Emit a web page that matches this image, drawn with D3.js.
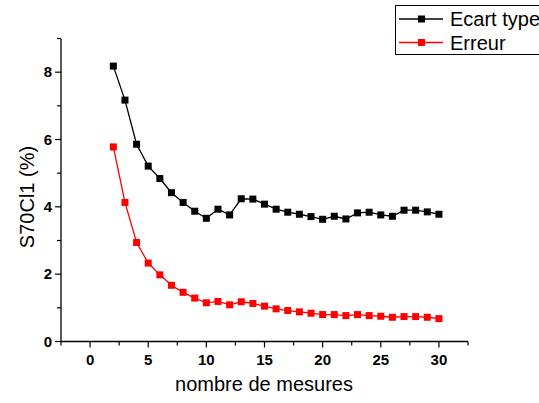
<!DOCTYPE html>
<html><head><meta charset="utf-8">
<script src="https://cdn.jsdelivr.net/npm/d3@7"></script>
<style>body{margin:0;background:#fff}svg{display:block;font-family:Arial,"Liberation Sans",sans-serif}</style>
</head><body><svg id="c" width="539" height="403"></svg>
<script>
const xValues = [2,3,4,5,6,7,8,9,10,11,12,13,14,15,16,17,18,19,20,21,22,23,24,25,26,27,28,29,30];
const ecartType = [8.18,7.17,5.86,5.21,4.84,4.42,4.13,3.87,3.66,3.93,3.76,4.24,4.23,4.08,3.93,3.84,3.78,3.71,3.63,3.72,3.64,3.82,3.84,3.76,3.72,3.90,3.90,3.85,3.78];
const erreur = [5.78,4.13,2.94,2.33,1.98,1.67,1.46,1.29,1.15,1.19,1.09,1.18,1.13,1.05,0.97,0.92,0.88,0.84,0.80,0.80,0.77,0.80,0.77,0.75,0.72,0.74,0.74,0.72,0.68];
const xTicks = [0,5,10,15,20,25,30];
const yTicks = [0,2,4,6,8];
const seriesNames = ["Ecart type","Erreur"];
const seriesColors = ["#000000","#ff0000"];

const svg = d3.select("#c");
const x = d3.scaleLinear().domain([-2.5,32.5]).range([61,468]);
const y = d3.scaleLinear().domain([0,9]).range([341.5,38.5]);

// axes
const xAxis = svg.append("g").attr("transform","translate(0,341.5)");
xAxis.append("line").attr("x1",x.range()[0]).attr("x2",x.range()[1]).attr("stroke","#000").attr("stroke-width",1.3);
const xMinor = d3.range(-2.5,33,2.5);
xAxis.selectAll(".xt").data(xMinor).join("line")
  .attr("x1",d=>x(d)).attr("x2",d=>x(d)).attr("y1",0)
  .attr("y2",d=>xTicks.includes(d)?6:4).attr("stroke","#000").attr("stroke-width",1.2);
xAxis.selectAll(".xl").data(xTicks).join("text")
  .attr("x",d=>x(d)).attr("y",23).attr("text-anchor","middle")
  .attr("font-size",15).attr("font-weight","bold").text(d=>d);

const yAxis = svg.append("g").attr("transform","translate(61,0)");
yAxis.append("line").attr("y1",y(0)).attr("y2",y(9)).attr("stroke","#000").attr("stroke-width",1.3);
const yMinor = d3.range(0,9.01,1);
yAxis.selectAll(".yt").data(yMinor).join("line")
  .attr("y1",d=>y(d)).attr("y2",d=>y(d)).attr("x1",0)
  .attr("x2",d=>yTicks.includes(d)?-6:-4).attr("stroke","#000").attr("stroke-width",1.2);
yAxis.selectAll(".yl").data(yTicks).join("text")
  .attr("x",-9).attr("y",d=>y(d)+5.3).attr("text-anchor","end")
  .attr("font-size",15).attr("font-weight","bold").text(d=>d);

svg.append("text").attr("x",264).attr("y",391).attr("text-anchor","middle")
  .attr("font-size",20).text("nombre de mesures");
svg.append("text").attr("transform","translate(34,197) rotate(-90)").attr("text-anchor","middle")
  .attr("font-size",20).text("S70Cl1 (%)");

// series
const data = [ecartType, erreur];
const line = d3.line().x(d=>x(d[0])).y(d=>y(d[1]));
data.forEach((vals,i)=>{
  const pts = xValues.map((xv,j)=>[xv,vals[j]]);
  svg.append("path").datum(pts).attr("d",line).attr("fill","none")
    .attr("stroke",seriesColors[i]).attr("stroke-width",1.3);
  svg.selectAll(".m"+i).data(pts).join("rect")
    .attr("x",d=>x(d[0])-3.5).attr("y",d=>y(d[1])-3.5)
    .attr("width",7).attr("height",7).attr("fill",seriesColors[i]);
});

// legend
const lg = svg.append("g");
lg.append("rect").attr("x",395.5).attr("y",5.5).attr("width",160).attr("height",49)
  .attr("fill","#fff").attr("stroke","#000").attr("stroke-width",1);
seriesNames.forEach((n,i)=>{
  const yy = 19 + i*23.5;
  lg.append("line").attr("x1",399).attr("x2",443).attr("y1",yy).attr("y2",yy)
    .attr("stroke",seriesColors[i]).attr("stroke-width",1.3);
  lg.append("rect").attr("x",421.5-3.5).attr("y",yy-3.5).attr("width",7).attr("height",7).attr("fill",seriesColors[i]);
  lg.append("text").attr("x",450).attr("y",yy+7).attr("font-size",20).text(n);
});
</script></body></html>
